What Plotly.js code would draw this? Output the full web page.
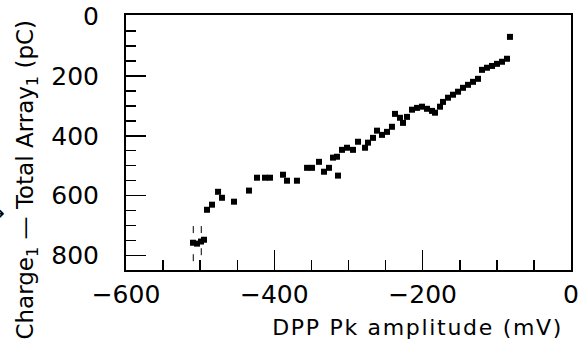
<!DOCTYPE html>
<html>
<head>
<meta charset="utf-8">
<script src="https://cdn.plot.ly/plotly-3.0.1.min.js"></script>
<style>
html,body{margin:0;padding:0;background:#fff;}
#chart{width:579px;height:347px;}
</style>
</head>
<body>
<div id="chart"></div>
<script>
// DPP peak amplitude (mV)
const amplitude = [
  -509.7, -504.3, -498.9, -494.8, -490.8, -484.0, -475.9, -470.6, -454.4, -434.2,
  -423.4, -412.6, -405.8, -388.3, -382.9, -369.5, -355.9, -349.2, -339.8, -333.0,
  -326.3, -320.9, -315.5, -314.2, -308.8, -302.0, -293.9, -287.2, -277.7, -273.7,
  -267.0, -261.6, -254.8, -248.1, -241.4, -237.3, -230.6, -226.5, -221.1, -214.4,
  -207.6, -200.9, -194.2, -187.4, -183.4, -176.6, -172.6, -165.8, -159.1, -152.3,
  -145.6, -138.9, -132.1, -125.4, -120.0, -113.3, -106.5, -99.8, -93.0, -86.3,
  -82.3
];
// Charge - Total Array (pC)
const charge = [
  757, 760, 753, 747, 647, 630, 587, 607, 620, 583,
  540, 540, 540, 530, 550, 550, 507, 507, 487, 520,
  507, 473, 470, 533, 447, 440, 447, 420, 440, 423,
  407, 383, 397, 387, 370, 327, 340, 357, 337, 313,
  307, 303, 310, 317, 323, 303, 287, 273, 263, 253,
  240, 230, 220, 210, 180, 173, 167, 160, 153, 143,
  70
];
// faint marks around the leftmost cluster
const markAmplitude = [-509.3, -509.3, -498.5, -498.5];
const markCharge = [713, 807, 713, 787];

const xTickVals = [-600, -400, -200, 0];
const xTickText = ['\u2212600', '\u2212400', '\u2212200', '0'];
const yTickVals = [0, 200, 400, 600, 800];
const yTickText = ['0', '200', '400', '600', '800'];

const xTitle = 'DPP Pk amplitude (mV)';
const yTitle = 'Charge<sub>1</sub> \u2014 Total Array<sub>1</sub> (pC)';

const FONT = 'DejaVu Sans, Verdana, sans-serif';

const traces = [
  {
    x: amplitude, y: charge, type: 'scatter', mode: 'markers',
    marker: {symbol: 'square', size: 6, color: '#000'},
    hoverinfo: 'x+y', showlegend: false
  },
  {
    x: markAmplitude, y: markCharge, type: 'scatter', mode: 'markers',
    marker: {symbol: 'line-ns', size: 5, line: {width: 1, color: '#000'}},
    showlegend: false
  }
];

const axisCommon = {
  showgrid: false, zeroline: false,
  showline: true, linecolor: '#000', linewidth: 2, mirror: true,
  ticks: 'inside', ticklen: 20, tickwidth: 1.5, tickcolor: '#000',
  tickfont: {family: FONT, size: 25, color: '#000'},
  tickmode: 'array',
  minor: {ticks: 'inside', ticklen: 10, tickwidth: 1.5, tickcolor: '#000', dtick: 50, showgrid: false}
};

const layout = {
  width: 579, height: 347,
  margin: {l: 126, r: 8, t: 15, b: 77},
  paper_bgcolor: '#fff', plot_bgcolor: '#fff',
  font: {family: FONT, color: '#000'},
  xaxis: Object.assign({}, axisCommon, {
    range: [-600, 0], tickvals: xTickVals, ticktext: xTickText,
    ticklabelstandoff: 1
  }),
  yaxis: Object.assign({}, axisCommon, {
    range: [848, -3], tickvals: yTickVals, ticktext: yTickText,
    ticklabelstandoff: 20
  }),
  annotations: [
    {text: xTitle, xref: 'paper', yref: 'paper', x: 0.655, y: -0.227,
     xanchor: 'center', yanchor: 'middle', showarrow: false,
     font: {family: FONT, size: 22, color: '#000'}},
    {text: yTitle, xref: 'paper', yref: 'paper', x: -0.2225, y: 0.99,
     xanchor: 'center', yanchor: 'top', textangle: -90, showarrow: false,
     font: {family: FONT, size: 23, color: '#000'}},
    {text: '\u2192', xref: 'paper', yref: 'paper', x: -0.267, y: 0.2235,
     xanchor: 'right', yanchor: 'middle', showarrow: false,
     font: {family: FONT, size: 20, color: '#000'}}
  ]
};

Plotly.newPlot('chart', traces, layout, {staticPlot: true, displayModeBar: false}).then(function (gd) {
  // widen the x title's letter spacing to match the reference's wide lettering
  const t = gd.querySelectorAll('.annotation-text')[0];
  if (t) t.style.letterSpacing = '1.7px';
});
</script>
</body>
</html>
